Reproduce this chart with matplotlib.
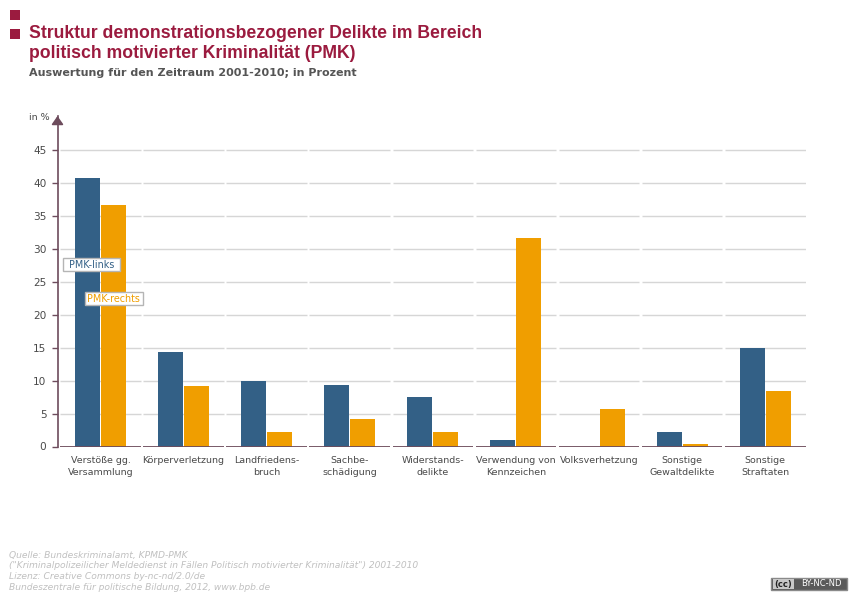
import numpy as np
import matplotlib
matplotlib.use("Agg")
import matplotlib.pyplot as plt
from matplotlib.patches import Rectangle

W, H = 858, 600

categories = [
    "Verstöße gg.\nVersammlung",
    "Körperverletzung",
    "Landfriedens-\nbruch",
    "Sachbe-\nschädigung",
    "Widerstands-\ndelikte",
    "Verwendung von\nKennzeichen",
    "Volksverhetzung",
    "Sonstige\nGewaltdelikte",
    "Sonstige\nStraftaten",
]
pmk_links = [40.7, 14.3, 9.9, 9.3, 7.5, 1.0, 0.0, 2.2, 15.0]
pmk_rechts = [36.7, 9.2, 2.2, 4.2, 2.2, 31.7, 5.7, 0.4, 8.4]
y_ticks = [0, 5, 10, 15, 20, 25, 30, 35, 40, 45]

title_lines = [
    "Struktur demonstrationsbezogener Delikte im Bereich",
    "politisch motivierter Kriminalität (PMK)",
]
subtitle = "Auswertung für den Zeitraum 2001-2010; in Prozent"
source_lines = [
    "Quelle: Bundeskriminalamt, KPMD-PMK",
    '("Kriminalpolizeilicher Meldedienst in Fällen Politisch motivierter Kriminalität") 2001-2010',
    "Lizenz: Creative Commons by-nc-nd/2.0/de",
    "Bundeszentrale für politische Bildung, 2012, www.bpb.de",
]

BLUE = "#336086"
ORANGE = "#f09e00"
RED = "#9b1b3f"
AXIS = "#6d4c5c"
GRID = "#d6d6d6"
TEXT = "#555555"


def px(x, y):
    # pixel position in the reference -> figure fraction
    return x / W, 1 - y / H


def label_box(left, top, width, height, text, color):
    fig.add_artist(Rectangle(px(left, top + height), width / W, height / H, transform=fig.transFigure,
                             fc="white", ec="#b5b5b5", lw=1, zorder=5))
    fig.text(*px(left + width / 2, top + height / 2), text, fontsize=6.9, color=color,
             ha="center", va="center", zorder=6)


fig = plt.figure(figsize=(W / 100, H / 100), dpi=100, facecolor="white")

# axes box runs from the y axis line to the end of the grid, up to the arrow tip
ax_left, ax_right, ax_top, ax_bottom = 57.5, 806, 116, 446.5
ax = fig.add_axes([ax_left / W, 1 - ax_bottom / H, (ax_right - ax_left) / W, (ax_bottom - ax_top) / H])
ax.set_xlim(-0.5175, 8.49)
ax.set_ylim(0, (ax_bottom - ax_top) / 6.59)

x = np.arange(len(categories))
bar_w = 25 / 83.1
step = 13 / 83.1

# grid and baseline are broken up per category
for i in x:
    ax.hlines(y_ticks[1:], i - 0.485, i + 0.485, color=GRID, lw=1.0, zorder=1)
    ax.hlines(0, i - 0.485, i + 0.485, color=AXIS, lw=1.3, zorder=3)

ax.bar(x - step, pmk_links, bar_w, color=BLUE, zorder=2)
ax.bar(x + step, pmk_rechts, bar_w, color=ORANGE, zorder=2)

for s in ["top", "right", "bottom"]:
    ax.spines[s].set_visible(False)
ax.spines["left"].set_color(AXIS)
ax.spines["left"].set_linewidth(1.2)
ax.set_yticks(y_ticks)
ax.tick_params(axis="y", length=4, width=1.0, color=AXIS, labelcolor="#4a4a4a", labelsize=7.6, pad=4)
ax.set_xticks(x)
ax.set_xticklabels(categories, fontsize=6.8, color="#4a4a4a", linespacing=1.4)
ax.tick_params(axis="x", length=0, pad=7)
ax.annotate(
    "", xy=(0, 1.0), xycoords="axes fraction", xytext=(0, 0.975),
    arrowprops=dict(arrowstyle="-|>,head_length=0.5,head_width=0.35", color=AXIS, lw=1.2,
                    mutation_scale=10, shrinkA=0, shrinkB=0),
)

fig.text(*px(29, 117), "in %", fontsize=6.8, color="#4a4a4a", va="center")

# series labels sit on top of the first group
label_box(62.5, 258, 58, 13, "PMK-links", BLUE)
label_box(84.5, 292, 58, 13, "PMK-rechts", ORANGE)

# header
for top in (10, 29):
    fig.add_artist(Rectangle(px(10, top + 10), 10 / W, 10 / H, transform=fig.transFigure, fc=RED, ec="none"))
for y, line in zip((34, 53), title_lines):
    fig.text(*px(29, y), line, fontsize=12.7, fontweight="bold", family="Liberation Sans", color=RED, va="center")
fig.text(*px(29, 73), subtitle, fontsize=8.0, fontweight="bold", color=TEXT, va="center")

# footer
for y, line in zip((555.5, 566, 576.5, 587), source_lines):
    fig.text(*px(9, y), line, fontsize=6.55, style="italic", color="#c0c0c0", va="center")

# licence badge
fig.add_artist(Rectangle(px(771, 590), 76 / W, 12 / H, transform=fig.transFigure, fc="#5a5a5a", ec="#8a8a8a", lw=1))
fig.add_artist(Rectangle(px(773, 589), 21 / W, 10 / H, transform=fig.transFigure, fc="#c8c8c8", ec="none"))
fig.text(*px(783.5, 584), "(cc)", fontsize=6, fontweight="bold", color="#222222", ha="center", va="center")
fig.text(*px(821, 584), "BY-NC-ND", fontsize=6, color="white", ha="center", va="center")

fig.savefig("out.png", dpi=100)
